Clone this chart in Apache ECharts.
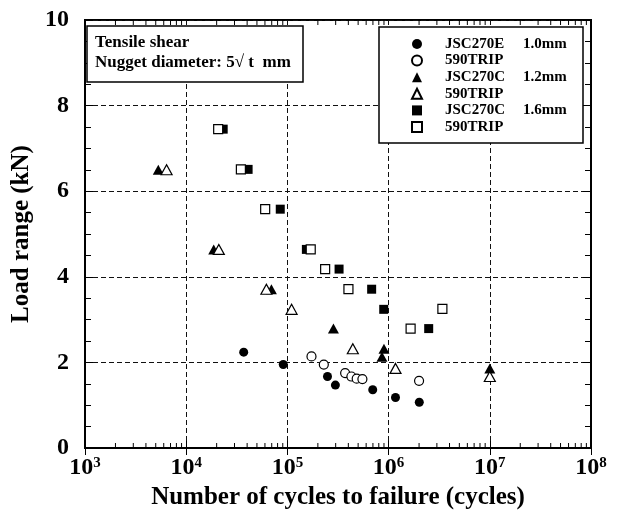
<!DOCTYPE html>
<html>
<head>
<meta charset="utf-8">
<script src="https://cdn.jsdelivr.net/npm/echarts@6/dist/echarts.min.js"></script>
<style>
  html, body { margin: 0; padding: 0; background: #fff; }
  #chart { width: 617px; height: 511px; }
</style>
</head>
<body>
<div id="chart"></div>
<script>
// Fatigue results: [cycles to failure, load range (kN)]
const jsc270e_10 = [[3.7e4, 2.24], [9.1e4, 1.95], [2.49e5, 1.67], [2.98e5, 1.47], [6.97e5, 1.36], [1.17e6, 1.18], [2.01e6, 1.07]];
const trip_10 = [[1.73e5, 2.14], [2.29e5, 1.95], [3.72e5, 1.75], [4.29e5, 1.67], [4.84e5, 1.62], [5.51e5, 1.61], [2.0e6, 1.57]];
const jsc270c_12 = [[5.3e3, 6.5], [1.87e4, 4.64], [6.95e4, 3.71], [2.85e5, 2.79], [9.0e5, 2.32], [8.6e5, 2.13], [1e7, 1.86]];
const trip_12 = [[6.4e3, 6.5], [2.1e4, 4.64], [6.2e4, 3.71], [1.1e5, 3.24], [4.43e5, 2.32], [1.17e6, 1.86], [1e7, 1.67]];
const jsc270c_16 = [[2.32e4, 7.45], [4.09e4, 6.51], [8.5e4, 5.58], [1.54e5, 4.64], [3.24e5, 4.18], [6.8e5, 3.71], [8.95e5, 3.24], [2.49e6, 2.79]];
const trip_16 = [[2.07e4, 7.45], [3.47e4, 6.51], [6.03e4, 5.58], [1.70e5, 4.64], [2.36e5, 4.18], [4.01e5, 3.71], [1.65e6, 2.79], [3.4e6, 3.25]];

// Legend text: material and sheet thickness
const seriesIds = ['e10', 't10', 'c12', 't12', 'c16', 't16'];
const legendMaterial = ['JSC270E', '590TRIP', 'JSC270C', '590TRIP', 'JSC270C', '590TRIP'];
const legendThickness = ['1.0mm', '', '1.2mm', '', '1.6mm', ''];
const legendIcons = ['circle', 'circle', 'triangle', 'triangle', 'rect', 'rect'];

// Log-axis minor tick multipliers and decades
const tickMultipliers = [2, 3, 4, 5, 6, 7, 8, 9];
const tickDecades = [1e3, 1e4, 1e5, 1e6, 1e7];

const FONT = '"Liberation Serif", "Times New Roman", serif';

const minorValues = [];
tickDecades.forEach(d => tickMultipliers.forEach(m => minorValues.push([m * d, 0])));

const filled = { color: '#000', borderColor: '#000', borderWidth: 0, opacity: 1 };
const hollow = { color: '#fff', borderColor: '#000', borderWidth: 1.2, opacity: 1 };

function scatter(id, data, symbol, size, style) {
  return {
    type: 'scatter', name: id, data: data, symbol: symbol, symbolSize: size,
    itemStyle: style, silent: true, z: 3
  };
}

const chart = echarts.init(document.getElementById('chart'), null, { renderer: 'canvas' });

const splitDash = { show: true, lineStyle: { color: '#111', width: 1, type: [5, 3] } };

chart.setOption({
  animation: false,
  backgroundColor: '#fff',
  grid: {
    left: 85, right: 26, top: 20, bottom: 63, containLabel: false, outerBoundsMode: 'none',
    show: true, borderColor: '#000', borderWidth: 2, backgroundColor: 'transparent'
  },
  xAxis: [
    {
      type: 'log', logBase: 10, min: 1e3, max: 1e8, position: 'bottom',
      axisLine: { show: true, lineStyle: { color: '#000', width: 2 } },
      axisTick: { show: true, inside: true, length: 7, lineStyle: { color: '#000', width: 1 } },
      splitLine: splitDash,
      axisLabel: {
        margin: 8,
        formatter: v => '{b|10}{s|' + Math.round(Math.log10(v)) + '}',
        rich: {
          b: { fontFamily: FONT, fontWeight: 'bold', fontSize: 24, color: '#000', lineHeight: 24 },
          s: { fontFamily: FONT, fontWeight: 'bold', fontSize: 15, color: '#000', lineHeight: 15, padding: [0, 0, 9, 0] }
        }
      },
      name: 'Number of cycles to failure (cycles)',
      nameLocation: 'middle', nameGap: 35,
      nameTextStyle: { fontFamily: FONT, fontWeight: 'bold', fontSize: 25, color: '#000' }
    },
    {
      type: 'log', logBase: 10, min: 1e3, max: 1e8, position: 'top',
      axisLine: { show: true, lineStyle: { color: '#000', width: 2 } },
      axisTick: { show: true, inside: true, length: 7, lineStyle: { color: '#000', width: 1 } },
      axisLabel: { show: false }, splitLine: { show: false }
    }
  ],
  yAxis: [
    {
      type: 'value', min: 0, max: 10, interval: 2, position: 'left',
      axisLine: { show: true, lineStyle: { color: '#000', width: 2 } },
      axisTick: { show: true, inside: true, length: 8, lineStyle: { color: '#000', width: 1 } },
      minorTick: { show: true, splitNumber: 4, length: 6, lineStyle: { color: '#000', width: 1 } },
      splitLine: splitDash,
      axisLabel: { margin: 16, fontFamily: FONT, fontWeight: 'bold', fontSize: 24, color: '#000' },
      name: 'Load range (kN)',
      nameLocation: 'middle', nameGap: 43,
      nameTextStyle: { fontFamily: FONT, fontWeight: 'bold', fontSize: 25, color: '#000' }
    },
    {
      type: 'value', min: 0, max: 10, interval: 2, position: 'right',
      axisLine: { show: true, lineStyle: { color: '#000', width: 2 } },
      axisTick: { show: true, inside: true, length: 8, lineStyle: { color: '#000', width: 1 } },
      minorTick: { show: true, splitNumber: 4, length: 6, lineStyle: { color: '#000', width: 1 } },
      splitLine: { show: false }, axisLabel: { show: false }
    }
  ],
  legend: {
    orient: 'vertical', left: 411, top: 36, padding: 0, z: 30,
    itemWidth: 10, itemHeight: 10, itemGap: 0.6,
    selectedMode: false,
    data: seriesIds.map((id, i) => ({ name: id, icon: legendIcons[i] })),
    formatter: name => {
      const i = seriesIds.indexOf(name);
      return '{a|' + legendMaterial[i] + '}{b|' + legendThickness[i] + '}';
    },
    textStyle: {
      fontFamily: FONT, fontWeight: 'bold', fontSize: 15, color: '#000', lineHeight: 16,
      rich: {
        a: { fontFamily: FONT, fontWeight: 'bold', fontSize: 15, color: '#000', lineHeight: 16, width: 78, padding: [0, 0, 0, 18] },
        b: { fontFamily: FONT, fontWeight: 'bold', fontSize: 15, color: '#000', lineHeight: 16 }
      }
    }
  },
  graphic: [
    { type: 'rect', shape: { x: 379, y: 27, width: 204, height: 116 }, style: { fill: '#fff', stroke: '#000', lineWidth: 1.5 }, z: 10, silent: true },
    { type: 'rect', shape: { x: 87, y: 26, width: 216, height: 56 }, style: { fill: '#fff', stroke: '#000', lineWidth: 1.5 }, z: 10, silent: true },
    { type: 'text', x: 95, y: 43, style: { text: 'Tensile shear', font: 'bold 17px ' + FONT, fill: '#000', verticalAlign: 'middle' }, z: 11, silent: true },
    { type: 'text', x: 95, y: 63, style: { text: 'Nugget diameter: 5\u221A t  mm', font: 'bold 17px ' + FONT, fill: '#000', verticalAlign: 'middle' }, z: 11, silent: true }
  ],
  series: [
    scatter('e10', jsc270e_10, 'circle', 9, filled),
    scatter('t10', trip_10, 'circle', 9, hollow),
    scatter('c12', jsc270c_12, 'triangle', [11, 10], filled),
    scatter('t12', trip_12, 'triangle', [11, 10], hollow),
    scatter('c16', jsc270c_16, 'rect', 9, filled),
    scatter('t16', trip_16, 'rect', 9, hollow),
    {
      type: 'custom', name: 'minorTicks', data: minorValues, silent: true, clip: false, z: 4,
      encode: { x: 0, y: 1 },
      renderItem: (params, api) => {
        const v = api.value(0);
        const b = api.coord([v, 0]);
        const t = api.coord([v, 10]);
        return {
          type: 'group', children: [
            { type: 'line', shape: { x1: b[0], y1: b[1], x2: b[0], y2: b[1] - 5 }, style: { stroke: '#000', lineWidth: 1 } },
            { type: 'line', shape: { x1: t[0], y1: t[1], x2: t[0], y2: t[1] + 5 }, style: { stroke: '#000', lineWidth: 1 } }
          ]
        };
      }
    }
  ]
});
</script>
</body>
</html>
